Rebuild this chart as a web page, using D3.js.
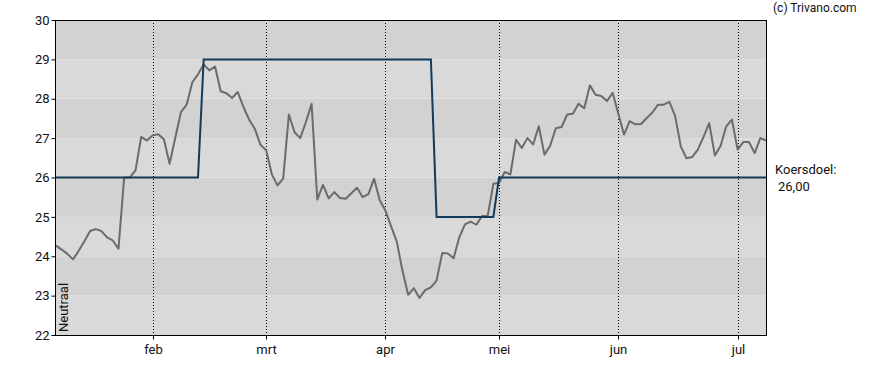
<!DOCTYPE html>
<html>
<head>
<meta charset="utf-8">
<script src="https://cdn.jsdelivr.net/npm/d3@7/dist/d3.min.js"></script>
<style>
  body { margin: 0; background: #fff; }
  svg text { font-family: Roboto, "Liberation Sans", sans-serif; fill: #111; }
</style>
</head>
<body>
<div id="chart"></div>
<script>
// koers per handelsdag (index 0..125)
const priceValues = [
  24.27, 24.17, 24.06, 23.92, 24.14, 24.38, 24.64, 24.69, 24.64, 24.48,
  24.40, 24.19, 26.00, 26.00, 26.18, 27.03, 26.94, 27.07, 27.10, 26.97,
  26.35, 27.01, 27.66, 27.85, 28.42, 28.62, 28.87, 28.72, 28.82, 28.19,
  28.14, 28.02, 28.17, 27.79, 27.47, 27.24, 26.83, 26.69, 26.08, 25.80,
  25.97, 27.60, 27.15, 27.00, 27.41, 27.87, 25.44, 25.81, 25.47, 25.63,
  25.48, 25.46, 25.60, 25.74, 25.50, 25.58, 25.97, 25.42, 25.16, 24.76,
  24.37, 23.63, 23.02, 23.19, 22.94, 23.14, 23.21, 23.38, 24.08, 24.07,
  23.95, 24.48, 24.81, 24.88, 24.80, 25.02, 25.02, 25.84, 25.86, 26.14,
  26.08, 26.96, 26.75, 27.00, 26.84, 27.30, 26.58, 26.81, 27.25, 27.28,
  27.60, 27.62, 27.87, 27.76, 28.34, 28.10, 28.07, 27.94, 28.15, 27.62,
  27.09, 27.43, 27.35, 27.36, 27.51, 27.65, 27.85, 27.85, 27.92, 27.56,
  26.79, 26.49, 26.52, 26.71, 27.03, 27.38, 26.56, 26.80, 27.30, 27.47,
  26.71, 26.90, 26.90, 26.62, 27.00, 26.94
];

// koersdoel (trapjes)
const targetIdx = [0, 25, 26, 66, 67, 77, 78, 125];
const targetVal = [26, 26, 29, 29, 25, 25, 26, 26];

const monthLabels = ["feb", "mrt", "apr", "mei", "jun", "jul"];
const monthIdx = [17, 37, 58, 78, 99, 120];

const yTicks = [22, 23, 24, 25, 26, 27, 28, 29, 30];

const width = 888, height = 370;
const pLeft = 55, pRight = 766, pTop = 20, pBottom = 335;

const svg = d3.select("#chart").append("svg")
  .attr("width", width)
  .attr("height", height);

const x = d3.scaleLinear()
  .domain([0, priceValues.length - 1])
  .range([pLeft + 1, pRight]);

const y = d3.scaleLinear()
  .domain([22, 30])
  .range([pBottom, pTop]);

// achtergrond banden
const bands = d3.range(22, 30);
svg.append("g")
  .selectAll("rect")
  .data(bands)
  .enter()
  .append("rect")
  .attr("x", pLeft)
  .attr("width", pRight - pLeft)
  .attr("y", d => y(d + 1))
  .attr("height", d => y(d) - y(d + 1))
  .attr("fill", d => (d % 2 === 0) ? "#d9d9d9" : "#d2d2d2");

// maand lijnen (gestippeld)
svg.append("g")
  .selectAll("line")
  .data(monthIdx)
  .enter()
  .append("line")
  .attr("x1", d => Math.round(x(d)) + 0.5)
  .attr("x2", d => Math.round(x(d)) + 0.5)
  .attr("y1", pTop)
  .attr("y2", pBottom)
  .attr("stroke", "#000")
  .attr("stroke-width", 1)
  .attr("stroke-dasharray", "1,2");

// koers lijn
const priceLine = d3.line()
  .x((d, i) => x(i))
  .y(d => y(d));

svg.append("path")
  .datum(priceValues)
  .attr("fill", "none")
  .attr("stroke", "#6b6b6b")
  .attr("stroke-width", 2)
  .attr("stroke-linejoin", "round")
  .attr("d", priceLine);

// koersdoel lijn
const targetData = targetIdx.map((d, i) => ({ i: d, v: targetVal[i] }));
svg.append("path")
  .datum(targetData)
  .attr("fill", "none")
  .attr("stroke", "#123a5b")
  .attr("stroke-width", 2)
  .attr("d", d3.line().x(d => x(d.i)).y(d => y(d.v)));

// rand
svg.append("rect")
  .attr("x", pLeft + 0.5)
  .attr("y", pTop + 0.5)
  .attr("width", pRight - pLeft)
  .attr("height", pBottom - pTop)
  .attr("fill", "none")
  .attr("stroke", "#000")
  .attr("stroke-width", 1);

// y as
const yAxis = svg.append("g")
  .attr("transform", `translate(${pLeft + 0.5},0)`)
  .call(d3.axisLeft(y).tickValues(yTicks).tickSize(4).tickSizeOuter(0).tickFormat(d3.format("d")));
yAxis.select(".domain").remove();
yAxis.selectAll("text").attr("font-size", 13).attr("x", -6).attr("fill", "#111");

// x as
const xAxis = svg.append("g")
  .attr("transform", `translate(0,${pBottom + 0.5})`)
  .call(d3.axisBottom(x).tickValues(monthIdx).tickSize(4).tickSizeOuter(0)
    .tickFormat((d, i) => monthLabels[i]));
xAxis.select(".domain").remove();
xAxis.selectAll(".tick").attr("transform", d => `translate(${Math.round(x(d)) + 0.5},0)`);
xAxis.selectAll("text").attr("font-size", 13).attr("y", 9).attr("fill", "#111");

// teksten
svg.append("text")
  .attr("transform", `translate(${pLeft + 13},${pBottom - 3}) rotate(-90)`)
  .attr("font-size", 13)
  .text("Neutraal");

svg.append("text")
  .attr("x", 773)
  .attr("y", 12)
  .attr("font-size", 12)
  .text("(c) Trivano.com");

svg.append("text")
  .attr("x", 775)
  .attr("y", 174)
  .attr("font-size", 13)
  .text("Koersdoel:");

svg.append("text")
  .attr("x", 778)
  .attr("y", 191)
  .attr("font-size", 13)
  .text("26,00");
</script>
</body>
</html>
